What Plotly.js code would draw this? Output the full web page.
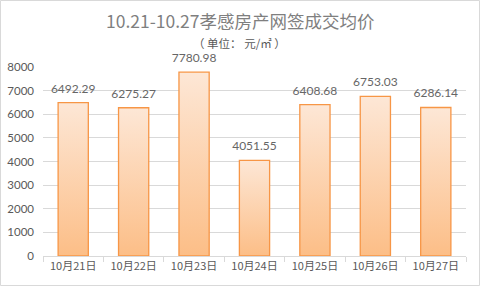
<!DOCTYPE html>
<html><head><meta charset="utf-8">
<script src="https://cdn.plot.ly/plotly-3.0.1.min.js"></script>
<style>
html,body{margin:0;padding:0;background:#fff;}
#chart{width:481px;height:289px;}
</style></head>
<body><div id="chart"></div>
<script>
const categories = ["10月21日","10月22日","10月23日","10月24日","10月25日","10月26日","10月27日"];
const prices = [6492.29, 6275.27, 7780.98, 4051.55, 6408.68, 6753.03, 6286.14];
const priceLabels = ["6492.29","6275.27","7780.98","4051.55","6408.68","6753.03","6286.14"];
const yTicks = [0,1000,2000,3000,4000,5000,6000,7000,8000];

const W = 423, H = 189; // plot area size in px
const trace = {
  type: 'bar', x: categories, y: prices,
  text: priceLabels, textposition: 'outside', cliponaxis: false, constraintext: 'none',
  textfont: {family: 'Lato, "Noto Sans", sans-serif', size: 12, color: '#666666'},
  marker: {color: '#fdd3ad', line: {color: '#f79646', width: 1.3}},
  width: 0.5, hoverinfo: 'none'
};
const layout = {
  width: 481, height: 289,
  margin: {l: 43, r: 15, t: 67, b: 33},
  paper_bgcolor: '#fff', plot_bgcolor: '#fff',
  showlegend: false,
  xaxis: {
    type: 'category', showgrid: false, zeroline: false,
    showline: true, linecolor: '#d9d9d9', linewidth: 1,
    ticks: 'outside', ticklen: 5, tickcolor: '#d9d9d9', tickson: 'boundaries',
    tickfont: {family: '"Noto Sans CJK SC", sans-serif', size: 11, color: '#595959'}
  },
  yaxis: {
    range: [0, 8000], tickvals: yTicks, ticktext: yTicks.map(String),
    showgrid: true, gridcolor: '#d9d9d9', gridwidth: 1, zeroline: false,
    showline: false, ticks: '', ticklabelstandoff: 8,
    tickfont: {family: 'Lato, "Noto Sans", sans-serif', size: 11.5, color: '#595959'}
  },
  annotations: [
    {text: '10.21-10.27孝感房产网签成交均价', xref: 'paper', yref: 'paper',
     x: (240-43)/W, y: (256-21)/H, xanchor: 'center', yanchor: 'middle', showarrow: false,
     font: {family: '"Noto Sans CJK SC", sans-serif', size: 17.5, color: '#7f7f7f'}},
    {text: '（ 单位： 元/㎡ ）', xref: 'paper', yref: 'paper',
     x: (239-43)/W, y: (256-43)/H, xanchor: 'center', yanchor: 'middle', showarrow: false,
     font: {family: '"Noto Sans CJK SC", sans-serif', size: 11.5, color: '#595959'}}
  ],
  shapes: [
    {type: 'rect', xref: 'paper', yref: 'paper',
     x0: (0.5-43)/W, x1: (479.5-43)/W, y0: (256-285.5)/H, y1: (256-0.5)/H,
     line: {color: '#d9d9d9', width: 1}, fillcolor: 'rgba(0,0,0,0)', layer: 'below'}
  ]
};
Plotly.newPlot('chart', [trace], layout, {staticPlot: true}).then(function(gd){
  const svg = gd.querySelector('svg.main-svg');
  const ns = 'http://www.w3.org/2000/svg';
  let defs = svg.querySelector('defs');
  const lg = document.createElementNS(ns, 'linearGradient');
  lg.setAttribute('id', 'barGrad');
  lg.setAttribute('x1', '0'); lg.setAttribute('y1', '0');
  lg.setAttribute('x2', '0'); lg.setAttribute('y2', '1');
  [['0','#fde7d6'],['1','#fcbe87']].forEach(function(s){
    const st = document.createElementNS(ns, 'stop');
    st.setAttribute('offset', s[0]); st.setAttribute('stop-color', s[1]);
    lg.appendChild(st);
  });
  defs.appendChild(lg);
  gd.querySelectorAll('.bars .point path').forEach(function(p){
    p.style.fill = 'url(#barGrad)';
  });
  gd.querySelectorAll('.bars .point text').forEach(function(t){
    const tr = t.getAttribute('transform') || '';
    t.setAttribute('transform', 'translate(0,-4) ' + tr);
  });
});
</script></body></html>
